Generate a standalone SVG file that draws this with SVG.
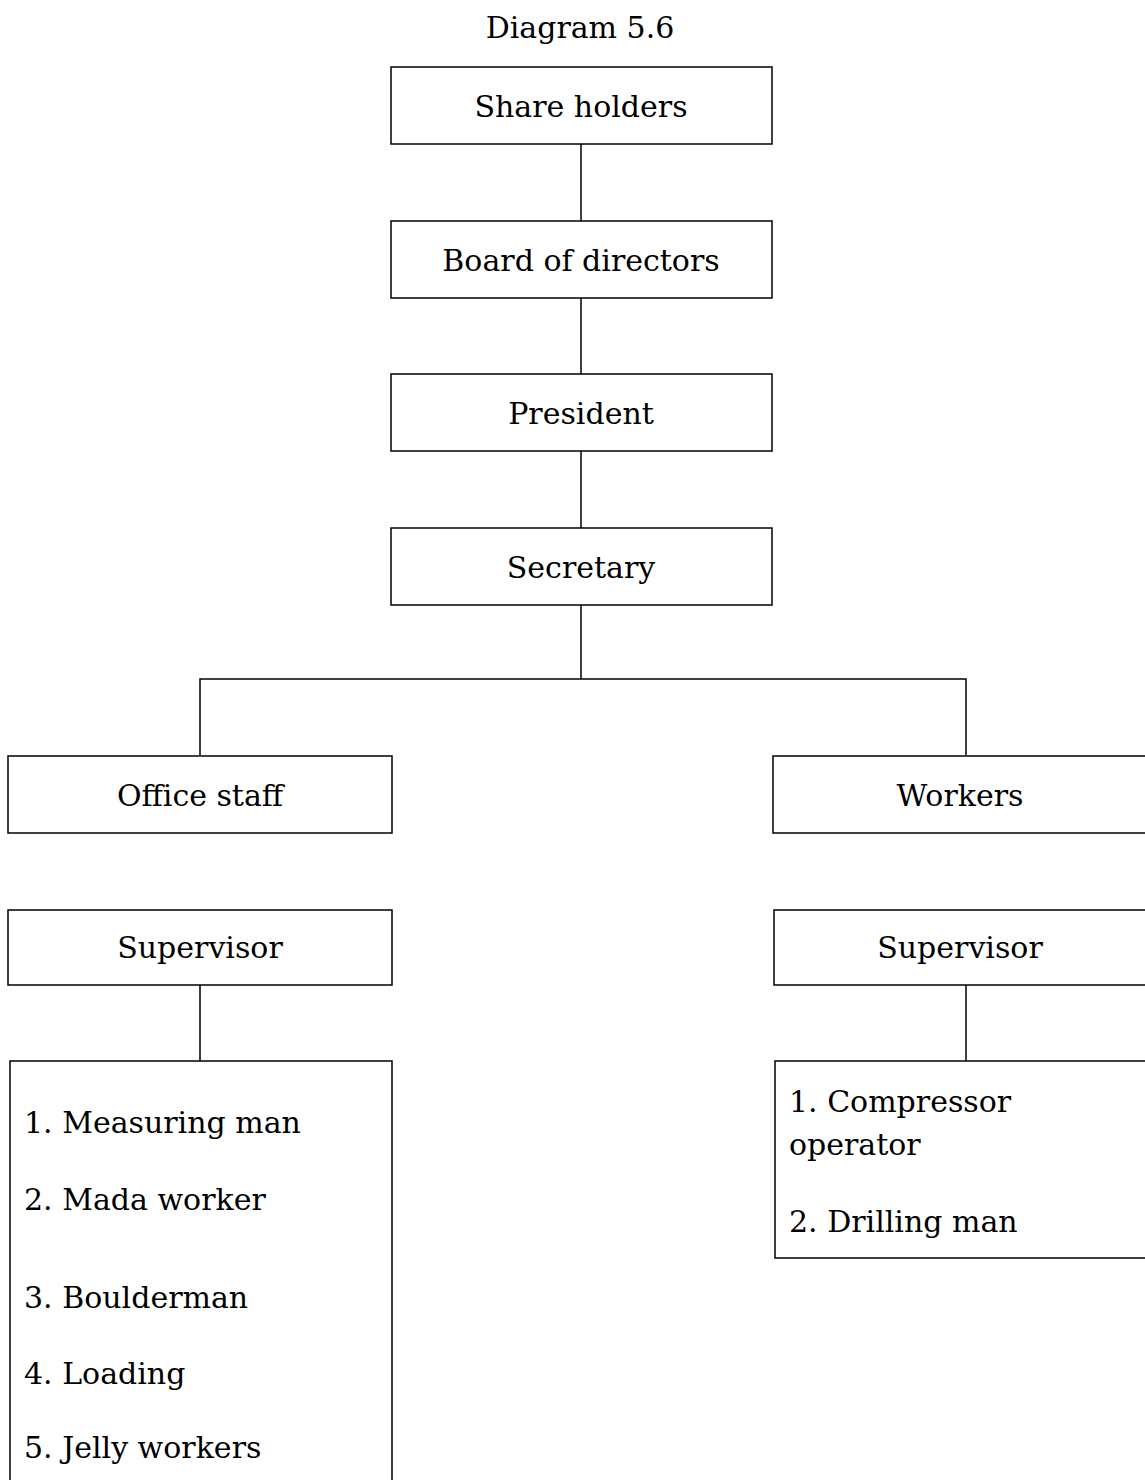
<svg xmlns="http://www.w3.org/2000/svg" width="1145" height="1480" viewBox="0 0 1145 1480">
  <style>
    .box { fill: #ffffff; stroke: #000000; stroke-width: 1.5; }
    .link { fill: none; stroke: #000000; stroke-width: 1.5; }
    text { font-family: "DejaVu Serif", "Liberation Serif", serif; font-size: 30px; fill: #000000; }
    .c { text-anchor: middle; }
  </style>
  <rect width="1145" height="1480" fill="#ffffff"/>

  <text id="title" class="c" x="580" y="38">Diagram 5.6</text>

  <!-- connectors -->
  <g id="connectors">
    <line class="link" x1="581" y1="144" x2="581" y2="221"/>
    <line class="link" x1="581" y1="298" x2="581" y2="374"/>
    <line class="link" x1="581" y1="451" x2="581" y2="528"/>
    <line class="link" x1="581" y1="605" x2="581" y2="679"/>
    <polyline class="link" points="200,755 200,679 966,679 966,755"/>
    <line class="link" x1="200" y1="985" x2="200" y2="1061"/>
    <line class="link" x1="966" y1="985" x2="966" y2="1061"/>
  </g>

  <g id="share-holders">
    <rect class="box" x="391" y="67" width="381" height="77"/>
    <text class="c" x="581" y="117">Share holders</text>
  </g>
  <g id="board-of-directors">
    <rect class="box" x="391" y="221" width="381" height="77"/>
    <text class="c" x="581" y="271">Board of directors</text>
  </g>
  <g id="president">
    <rect class="box" x="391" y="374" width="381" height="77"/>
    <text class="c" x="581" y="424">President</text>
  </g>
  <g id="secretary">
    <rect class="box" x="391" y="528" width="381" height="77"/>
    <text class="c" x="581" y="578">Secretary</text>
  </g>

  <g id="office-staff">
    <rect class="box" x="8" y="756" width="384" height="77"/>
    <text class="c" x="200" y="806">Office staff</text>
  </g>
  <g id="workers">
    <rect class="box" x="773" y="756" width="373" height="77"/>
    <text class="c" x="960" y="806">Workers</text>
  </g>

  <g id="supervisor-office">
    <rect class="box" x="8" y="910" width="384" height="75"/>
    <text class="c" x="200" y="958">Supervisor</text>
  </g>
  <g id="supervisor-workers">
    <rect class="box" x="774" y="910" width="372" height="75"/>
    <text class="c" x="960" y="958">Supervisor</text>
  </g>

  <g id="office-tasks">
    <rect class="box" x="10" y="1061" width="382" height="440"/>
    <text x="24" y="1133">1. Measuring man</text>
    <text x="24" y="1210">2. Mada worker</text>
    <text x="24" y="1308">3. Boulderman</text>
    <text x="24" y="1384">4. Loading</text>
    <text x="24" y="1458">5. Jelly workers</text>
  </g>

  <g id="worker-tasks">
    <rect class="box" x="775" y="1061" width="371" height="197"/>
    <text x="789" y="1112">1. Compressor</text>
    <text x="789" y="1155">operator</text>
    <text x="789" y="1232">2. Drilling man</text>
  </g>
</svg>
